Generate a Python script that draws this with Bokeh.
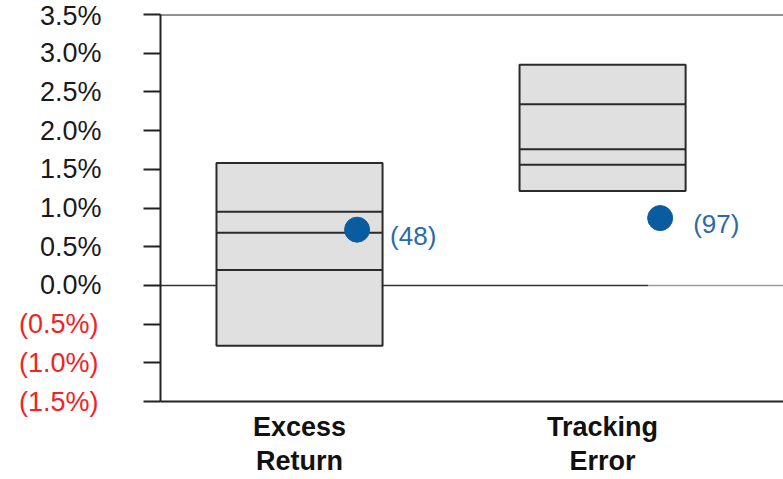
from bokeh.plotting import figure
from bokeh.models import (ColumnDataSource, FixedTicker, LinearAxis, Span,
                          Range1d)
from bokeh.core.properties import value
from bokeh.embed import file_html
from bokeh.resources import INLINE

# ---- data ----
categories = ["Excess\nReturn", "Tracking\nError"]
cat_pos = [1, 2]
pct_high = [1.58, 2.85]
pct_75 = [0.95, 2.34]
pct_50 = [0.68, 1.76]
pct_25 = [0.20, 1.56]
pct_low = [-0.78, 1.22]
fund_values = [0.72, 0.87]
fund_ranks = ["(48)", "(97)"]
y_ticks = [-1.5, -1.0, -0.5, 0.0, 0.5, 1.0, 1.5, 2.0, 2.5, 3.0, 3.5]

# ---- styles / layout ----
FONT = "Liberation Sans"
BOX_HALF = 0.274
DOT_SHIFT = 0.19
X0, X1 = 0.5413, 2.597
Y0, Y1 = -1.5, 3.5
ZERO_BREAK = 2.151


def fmt(v):
    return f"({abs(v):.1f}%)" if v < 0 else f"{v:.1f}%"


p = figure(width=783, height=479, output_backend="svg",
           toolbar_location=None, x_range=Range1d(X0, X1),
           y_range=Range1d(Y0, Y1), min_border_left=160, min_border_right=0,
           min_border_top=14, min_border_bottom=77, x_axis_location=None,
           y_axis_location=None)
p.outline_line_color = None
p.xgrid.visible = False
p.ygrid.visible = False

# inner left axis: line, ticks and the black (non-negative) labels
ya = LinearAxis(ticker=FixedTicker(ticks=y_ticks))
ya.major_label_overrides = {v: ("" if v < 0 else fmt(v)) for v in y_ticks}
ya.axis_line_color = "#222222"
ya.axis_line_width = 2
ya.major_tick_line_color = "#222222"
ya.major_tick_line_width = 2
ya.major_tick_out = 17
ya.major_tick_in = 0
ya.minor_tick_line_color = None
ya.major_label_standoff = 42
ya.major_label_text_font = FONT
ya.major_label_text_font_size = "27px"
ya.major_label_text_color = "#1a1a1a"
p.add_layout(ya, "left")

# outer left axis: only the red (negative) labels, pulled back into line
ya2 = LinearAxis(ticker=FixedTicker(ticks=y_ticks))
ya2.major_label_overrides = {v: (fmt(v) if v < 0 else "") for v in y_ticks}
ya2.axis_line_color = None
ya2.major_tick_line_color = None
ya2.major_tick_out = 0
ya2.major_tick_in = 0
ya2.minor_tick_line_color = None
ya2.major_label_standoff = -62
ya2.major_label_text_font = FONT
ya2.major_label_text_font_size = "27px"
ya2.major_label_text_color = "#f02424"
p.add_layout(ya2, "left")

xa = LinearAxis(ticker=FixedTicker(ticks=cat_pos))
xa.major_label_overrides = {c: t for c, t in zip(cat_pos, categories)}
xa.axis_line_color = "#222222"
xa.axis_line_width = 2
xa.major_tick_line_color = None
xa.major_tick_out = 0
xa.major_tick_in = 0
xa.minor_tick_line_color = None
xa.major_label_text_font = FONT
xa.major_label_text_font_size = "27px"
xa.major_label_text_font_style = "bold"
xa.major_label_text_color = "#111111"
xa.major_label_standoff = 10
xa.major_label_text_line_height = 1.15
p.add_layout(xa, "below")

p.add_layout(Span(location=Y1, dimension="width", line_color="#222222",
                  line_width=2))

# zero line
p.segment(x0=[X0], y0=[0], x1=[ZERO_BREAK], y1=[0], line_color="#333333",
          line_width=1.5)
p.segment(x0=[ZERO_BREAK], y0=[0], x1=[X1], y1=[0], line_color="#9a9a9a",
          line_width=1.5)

# boxes
bs = ColumnDataSource(dict(
    left=[c - BOX_HALF for c in cat_pos],
    right=[c + BOX_HALF for c in cat_pos],
    top=pct_high, bottom=pct_low,
    p75=pct_75, p50=pct_50, p25=pct_25,
))
p.quad(left="left", right="right", top="top", bottom="bottom", source=bs,
       fill_color="#e0e0e0", line_color="#2a2a2a", line_width=2)
for col in ["p75", "p50", "p25"]:
    p.segment(x0="left", y0=col, x1="right", y1=col, source=bs,
              line_color="#2a2a2a", line_width=2)

# fund dots
ds = ColumnDataSource(dict(
    x=[c + DOT_SHIFT for c in cat_pos],
    y=fund_values,
    t=fund_ranks,
))
p.scatter(x="x", y="y", source=ds, size=25, fill_color="#0b5c9e",
          line_color="#0b5c9e")
p.text(x="x", y="y", text="t", source=ds, x_offset=33, y_offset=6,
       text_baseline="middle", text_align="left", text_color="#2a6aa8",
       text_font=value(FONT), text_font_size="26px")

open("out.html", "w").write(file_html(p, INLINE))
